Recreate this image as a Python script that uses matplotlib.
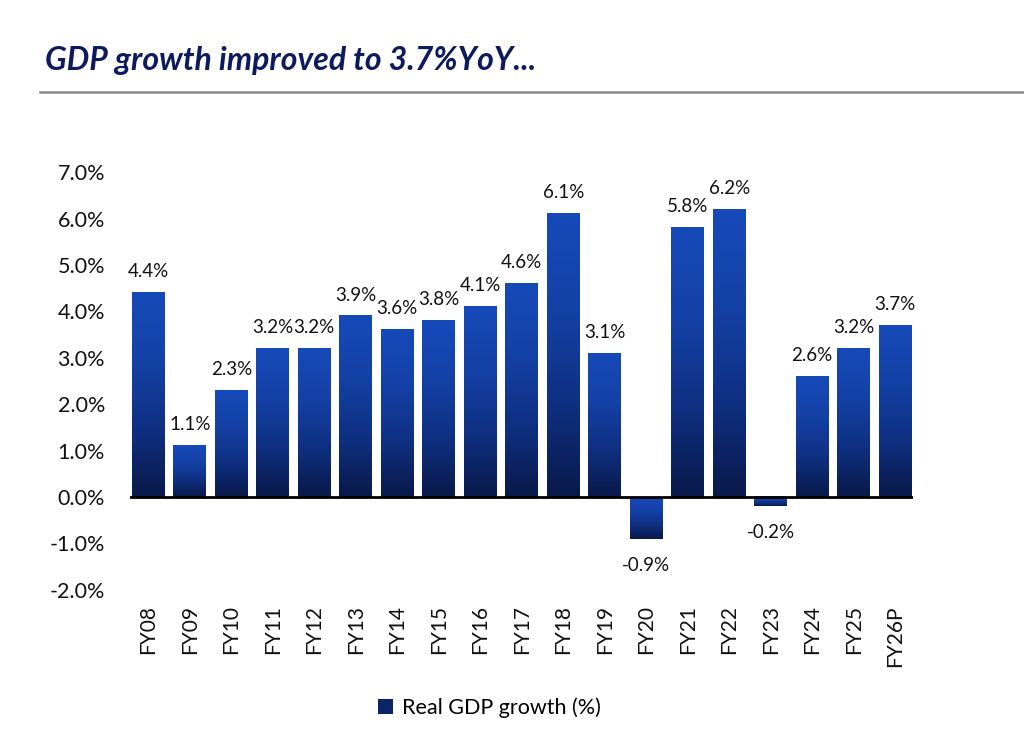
import numpy as np
import matplotlib
matplotlib.use("Agg")
from matplotlib import pyplot as plt
from matplotlib.colors import LinearSegmentedColormap
from matplotlib.patches import Patch
from matplotlib.lines import Line2D

plt.rcParams["font.family"] = ["Lato", "DejaVu Sans"]

# Data
years = ["FY08", "FY09", "FY10", "FY11", "FY12", "FY13", "FY14", "FY15", "FY16", "FY17",
         "FY18", "FY19", "FY20", "FY21", "FY22", "FY23", "FY24", "FY25", "FY26P"]
growth = [4.4, 1.1, 2.3, 3.2, 3.2, 3.9, 3.6, 3.8, 4.1, 4.6,
          6.1, 3.1, -0.9, 5.8, 6.2, -0.2, 2.6, 3.2, 3.7]
y_ticks = [-2, -1, 0, 1, 2, 3, 4, 5, 6, 7]

TITLE = "GDP growth improved to 3.7%YoY..."
LEGEND = "Real GDP growth (%)"
NAVY = "#0d1a5e"
BAR_WIDTH = 0.79

# bright blue at the top of each bar fading to navy at the bottom
bar_cmap = LinearSegmentedColormap.from_list(
    "bar", ["#164ab9", "#1441a6", "#0f3082", "#09194a"]
)

fig = plt.figure(figsize=(10.24, 7.42), dpi=100)
ax = fig.add_axes([0.127, 0.205, 0.765, 0.563])

x = np.arange(len(years))
grad = np.linspace(0, 1, 256).reshape(-1, 1)
for xi, v in zip(x, growth):
    ax.imshow(grad, extent=[xi - BAR_WIDTH / 2, xi + BAR_WIDTH / 2, min(0, v), max(0, v)],
              aspect="auto", cmap=bar_cmap, zorder=2, interpolation="bilinear")
    if v >= 0:
        ax.annotate(f"{v:.1f}%", (xi, v), xytext=(0, 9), textcoords="offset points",
                    ha="center", va="bottom", fontsize=13.5, color="#111111")
    else:
        ax.annotate(f"{v:.1f}%", (xi, v), xytext=(0, -13), textcoords="offset points",
                    ha="center", va="top", fontsize=13.5, color="#111111")

ax.axhline(0, color="black", lw=2, zorder=3)

ax.set_xlim(-0.44, len(years) - 0.56)
ax.set_ylim(-2, 7)
ax.set_yticks(y_ticks)
ax.set_yticklabels([f"{t:.1f}%" for t in y_ticks])
ax.set_xticks(x)
ax.set_xticklabels(years, rotation=90, va="top")
ax.tick_params(axis="y", length=0, pad=18, labelsize=15.5, labelcolor="#111111")
ax.tick_params(axis="x", length=0, pad=11, labelsize=15, labelcolor="#111111")
for s in ax.spines.values():
    s.set_visible(False)

fig.text(0.044, 0.919, TITLE, fontsize=23, fontweight="bold", fontstyle="italic",
         color=NAVY, va="center", ha="left")
fig.add_artist(Line2D([0.039, 1.0], [0.876, 0.876], color="#8a8a8a", lw=1.8,
                      transform=fig.transFigure))

fig.legend(handles=[Patch(facecolor="#0e2468", edgecolor="none", label=LEGEND)],
           loc="center", bbox_to_anchor=(0.478, 0.046), frameon=False, fontsize=15.5,
           handlelength=0.7, handleheight=0.7, handletextpad=0.4)

fig.savefig("out.png", dpi=100, facecolor="white")
